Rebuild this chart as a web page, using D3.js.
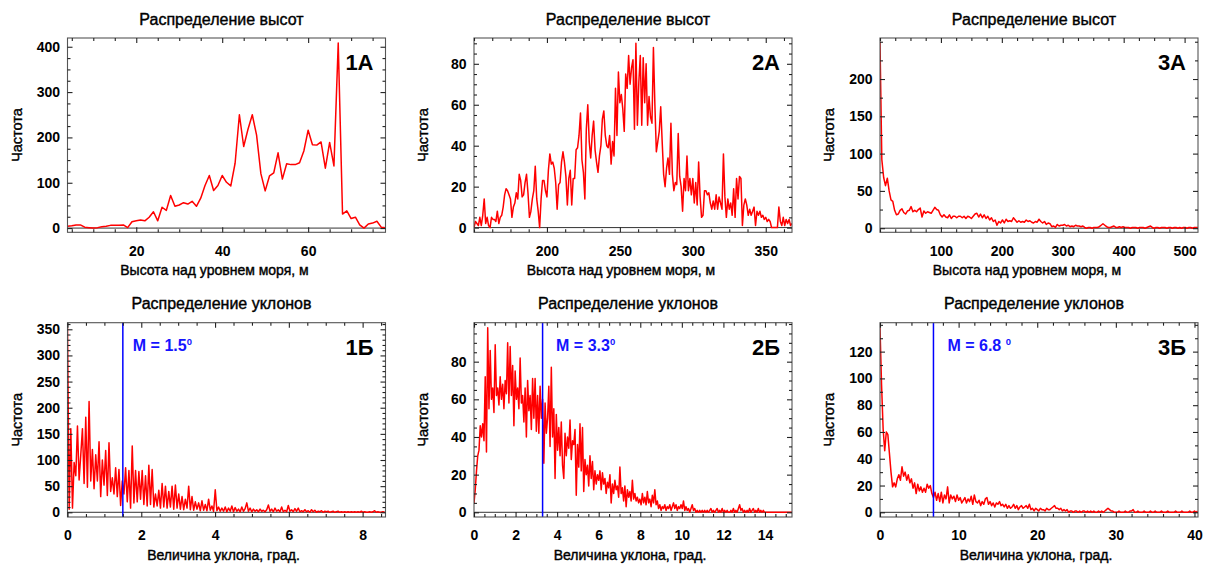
<!DOCTYPE html>
<html>
<head>
<meta charset="utf-8">
<script src="https://cdn.jsdelivr.net/npm/d3@7"></script>
<style>
  body { margin: 0; background: #fff; }
  svg text { font-family: "Liberation Sans", Arial, sans-serif; fill: #000; }
  svg text.heavy { paint-order: stroke; stroke: #000; stroke-width: 0.4px; }
</style>
</head>
<body>
<svg id="chart" width="1209" height="564"></svg>
<script>
// ---------- Height histograms (count per height bin) ----------
const heights1Start = 4, heights1Step = 1;
const heights1Counts = [4,5,7,7,2,1,0,1,3,4,6,6,6,7,1,14,16,18,16,24,36,16,46,39,72,48,51,56,53,59,
  48,66,94,116,83,94,116,101,93,143,250,180,218,250,205,120,82,115,122,166,108,142,140,140,144,170,216,184,183,190,
  132,189,137,408,31,38,21,24,7,0,9,11,15,2,1];

const heights2Start = 150, heights2Step = 1;
const heights2Counts = [
  0,3,2,1,5,1,6,14,2,5, 1,0,5,4,4,3,8,2,5,6, 10,16,19,18,16,14,5,10,12,17,
  14,26,23,15,16,22,26,17,5,8, 14,18,30,14,8,0,14,23,23,18, 15,28,36,31,32,29,22,9,21,22,
  32,37,32,25,11,24,28,11,24,24, 38,39,45,56,33,27,14,48,60,42, 34,45,52,38,32,27,35,40,53,57,
  45,40,39,45,31,42,35,68,45,76, 61,65,58,47,75,68,84,70,78,82, 48,90,50,71,84,50,83,61,80,50,
  64,54,51,88,60,37,42,47,59,42, 26,20,29,34,26,51,26,18,22,21, 46,25,20,8,24,18,35,18,24,16,
  24,12,22,11,32,15,5,6,18,18, 16,17,12,9,13,9,16,9,15,12, 9,36,15,5,14,9,12,6,19,5,
  24,14,25,24,1,11,14,11,6,9, 6,8,10,1,8,6,8,5,6,4, 5,3,4,3,0,0,0,0,0,10,
  3,1,5,1,4,2,4,1,2];

const heights3Start = 0, heights3Step = 3;
const heights3Counts = [
  250,92,68,57,67,50,38,36,24,18, 19,24,26,21,19,23,24,29,22,24, 22,25,27,15,23,20,22,21,20,24,
  28,25,24,18,15,18,15,14,18,13, 16,16,14,16,16,14,16,13,16,15, 13,16,19,20,15,19,14,18,13,16,
  11,14,9,11,4,9,7,11,7,12, 9,10,9,14,11,8,10,8,9,8, 11,9,10,8,7,9,8,12,9,7,
  9,5,7,6,2,3,1,5,3,4, 4,5,3,4,2,3,2,4,3,3, 2,3,1,0,1,1,0,1,1,1,
  2,4,6,4,2,1,1,2,3,1, 1,2,1,2,1,1,1,0,1,1, 1,0,1,1,1,0,1,2,3,1,
  0,1,1,0,1,1,1,0,1,1, 0,1,1,0,1,0,1,1,0,1, 1,0,1,1,1];

// ---------- Slope histograms (count per slope bin, degrees) ----------
const slopes1Start = 0, slopes1Step = 0.045;
const slopes1Counts = [
  353,6,160,8,95,70,165,62,110,160, 55,182,48,212,60,120,45,110,60,135, 30,100,52,118,32,133,40,66,35,85,
  30,82,13,60,35,85,20,80,8,127, 18,80,20,78,25,80,15,70,12,90, 15,82,10,35,12,42,8,55,10,50,
  8,40,10,50,6,52,8,35,6,30, 5,25,8,50,5,30,4,20,6,18, 3,22,4,15,3,25,4,12,2,43,
  3,10,2,8,2,10,1,8,2,12, 1,9,2,6,1,10,2,7,18,2, 8,1,6,2,5,1,6,2,4,1,
  5,14,2,6,1,8,2,5,1,10, 1,4,1,13,2,5,1,7,2,8, 1,3,1,5,1,3,0,5,1,4,
  0,2,1,3,0,2,1,2,0,1, 2,0,1,2,0,1,0,1,0,1, 0,1,0,1,0,1,0,2,0,1,
  0,0,1,0,1,3,0,1,0,0, 1,0];
const slopes1Median = 1.5;

const slopes2Start = 0, slopes2Step = 0.06;
const slopes2Counts = [
  5,12,22,30,33,46,40,47,38,72, 32,98,55,86,60,66,53,89,62,66, 57,72,60,68,55,70,63,90,58,88,
  62,78,46,75,60,66,55,82,58,62, 48,66,40,70,54,62,44,71,50,71, 43,62,42,67,50,60,26,58,42,50,
  67,35,77,40,55,18,52,33,45,30, 48,25,18,42,30,40,34,49,28,38, 36,44,9,36,24,47,22,45,11,28,
  20,25,14,30,18,27,12,22,15,20, 17,22,12,21,15,18,10,16,13,20, 5,15,10,17,12,14,8,24,10,13,
  6,14,3,12,8,11,6,17,7,10, 6,8,5,7,4,10,5,8,4,11, 5,7,3,9,5,12,4,6,2,4,
  1,3,2,4,1,3,2,4,1,3, 5,2,4,1,3,2,4,2,6,1, 3,1,2,0,2,4,1,2,0,1,
  0,1,0,1,0,1,0,1,0,1, 2,0,1,0,1,2,0,1,0,2, 0,1,0,1,0,0,1,0,2,0,
  1,0,2,4,1,2,0,1,0,1, 0,2,0,1,2,0,1,0,2,0, 1,0,1,0,0,0,0,0,0,0,
  0,0,0,0,0,0,0,0,0,0, 0,0,0,0,0,0];
const slopes2Median = 3.3;

const slopes3Start = 0, slopes3Step = 0.2;
const slopes3Counts = [
  138,95,62,46,60,58,44,30,19,22, 19,25,28,24,34,27,30,24,28,22, 25,18,22,14,21,16,19,15,18,15,
  21,18,20,14,11,15,9,14,8,15, 7,13,10,19,7,13,10,12,8,13, 9,11,7,9,11,7,10,8,12,6,
  13,8,7,9,5,8,6,10,11,6, 8,5,7,4,7,6,8,5,6,4, 6,3,5,3,4,6,3,5,2,4,
  5,3,4,5,3,6,2,3,1,3, 2,1,3,2,2,1,3,2,2,3, 4,5,3,3,2,3,1,2,1,2,
  0,1,1,0,1,1,0,1,0,1, 1,0,1,0,1,0,1,0,0,1, 0,1,0,1,2,3,2,1,1,0,
  0,0,1,0,0,0,1,0,0,1, 1,2,0,0,1,0,0,0,1,0, 0,0,1,0,0,1,0,0,0,1,
  0,0,0,1,0,0,0,0,1,0, 0,0,1,0,0,0,0,1,0,0, 1,0,1];
const slopes3Median = 6.8;

// ---------- Axis ticks ----------
const heights1XTicks = [20, 40, 60],            heights1YTicks = [0, 100, 200, 300, 400];
const heights2XTicks = [200, 250, 300, 350],    heights2YTicks = [0, 20, 40, 60, 80];
const heights3XTicks = [100, 200, 300, 400, 500], heights3YTicks = [0, 50, 100, 150, 200];
const slopes1XTicks = [0, 2, 4, 6, 8],          slopes1YTicks = [0, 50, 100, 150, 200, 250, 300, 350];
const slopes2XTicks = [0, 2, 4, 6, 8, 10, 12, 14], slopes2YTicks = [0, 20, 40, 60, 80];
const slopes3XTicks = [0, 10, 20, 30, 40],      slopes3YTicks = [0, 20, 40, 60, 80, 100, 120];

const heightTitle = "Распределение высот", slopeTitle = "Распределение уклонов";
const heightAxisTitle = "Высота над уровнем моря, м", slopeAxisTitle = "Величина уклона, град.";
const yAxisTitle = "Частота";

// ---------- Panel table ----------
const panels = [
  { label: "1А", col: 0, row: 0, title: heightTitle, xTitle: heightAxisTitle,
    start: heights1Start, step: heights1Step, counts: heights1Counts,
    xDomain: [4, 78], yDomain: [-9.3, 419.3], xTicks: heights1XTicks, yTicks: heights1YTicks, xMinor: 5, yMinor: 25 },
  { label: "2А", col: 1, row: 0, title: heightTitle, xTitle: heightAxisTitle,
    start: heights2Start, step: heights2Step, counts: heights2Counts,
    xDomain: [150, 368], yDomain: [-2.3, 92.6], xTicks: heights2XTicks, yTicks: heights2YTicks, xMinor: 12.5, yMinor: 5 },
  { label: "3А", col: 2, row: 0, title: heightTitle, xTitle: heightAxisTitle,
    start: heights3Start, step: heights3Step, counts: heights3Counts,
    xDomain: [0, 522], yDomain: [-5.5, 255], xTicks: heights3XTicks, yTicks: heights3YTicks, xMinor: 25, yMinor: 25 },
  { label: "1Б", col: 0, row: 1, title: slopeTitle, xTitle: slopeAxisTitle,
    start: slopes1Start, step: slopes1Step, counts: slopes1Counts, median: slopes1Median, medianGap: 10, medianSpace: "",
    xDomain: [0, 8.62], yDomain: [-9, 362.6], xTicks: slopes1XTicks, yTicks: slopes1YTicks, xMinor: 0.5, yMinor: 10 },
  { label: "2Б", col: 1, row: 1, title: slopeTitle, xTitle: slopeAxisTitle,
    start: slopes2Start, step: slopes2Step, counts: slopes2Counts, median: slopes2Median, medianGap: 13.5, medianSpace: "",
    xDomain: [0, 15.3], yDomain: [-2.5, 100.7], xTicks: slopes2XTicks, yTicks: slopes2YTicks, xMinor: 0.5, yMinor: 5 },
  { label: "3Б", col: 2, row: 1, title: slopeTitle, xTitle: slopeAxisTitle,
    start: slopes3Start, step: slopes3Step, counts: slopes3Counts, median: slopes3Median, medianGap: 14, medianSpace: " ",
    xDomain: [0, 40.45], yDomain: [-3.5, 141.6], xTicks: slopes3XTicks, yTicks: slopes3YTicks, xMinor: 2, yMinor: 10 }
];

// ---------- Layout ----------
const colLeft = [67.5, 474, 880];
const plotW = 318;
const rowTop = [38, 322.7];
const plotH = 194.3;
const xTitleShift = [-12, -3];
const FONT = '"Liberation Sans", Arial, sans-serif';

const svg = d3.select("#chart");
svg.append("rect").attr("width", 1209).attr("height", 564).attr("fill", "#fff");

function minorValues(domain, step, majors) {
  const lo = Math.ceil(domain[0] / step - 1e-9) * step;
  return d3.range(lo, domain[1] + 1e-9, step)
    .filter(v => !majors.some(m => Math.abs(m - v) < step * 1e-3));
}

function styleAxis(g) {
  g.select(".domain").remove();
  g.selectAll(".tick line").attr("stroke", "#222").attr("stroke-width", 1.1);
}

function styleLabels(g) {
  g.selectAll("text").attr("font-size", 14).attr("font-weight", "bold")
    .attr("font-family", FONT).style("fill", "#000");
}

panels.forEach((p, k) => {
  const x0 = colLeft[p.col], x1 = x0 + plotW;
  const y0 = rowTop[p.row], y1 = y0 + plotH;
  const x = d3.scaleLinear().domain(p.xDomain).range([x0, x1]);
  const y = d3.scaleLinear().domain(p.yDomain).range([y1, y0]);
  const g = svg.append("g").attr("class", "panel");

  const clipId = "plot-area-" + k;
  g.append("clipPath").attr("id", clipId)
    .append("rect").attr("x", x0).attr("y", y0).attr("width", plotW).attr("height", plotH);

  // zero baseline
  g.append("line")
    .attr("x1", x0).attr("x2", x1).attr("y1", y(0)).attr("y2", y(0))
    .attr("stroke", "#333").attr("stroke-width", 1);

  // frequency curve
  const pts = p.counts.map((c, i) => [p.start + i * p.step, c]);
  g.append("path").datum(pts)
    .attr("clip-path", `url(#${clipId})`)
    .attr("fill", "none").attr("stroke", "#ff0000").attr("stroke-width", 1.5)
    .attr("stroke-linejoin", "round")
    .attr("d", d3.line().x(d => x(d[0])).y(d => y(d[1])));

  // median slope marker
  if (p.median !== undefined) {
    const mx = x(p.median);
    g.append("line").attr("x1", mx).attr("x2", mx).attr("y1", y0).attr("y2", y1)
      .attr("stroke", "#0000ff").attr("stroke-width", 1.5);
    const t = g.append("text")
      .attr("x", mx + p.medianGap).attr("y", y0 + 28.6)
      .attr("font-size", 16).attr("font-weight", "bold").style("fill", "#1414ff");
    t.append("tspan").text("M = " + p.median.toFixed(1) + p.medianSpace);
    t.append("tspan").attr("dy", -6.6).attr("font-size", 9.5).text("0");
  }

  // frame
  g.append("rect").attr("x", x0).attr("y", y0).attr("width", plotW).attr("height", plotH)
    .attr("fill", "none").attr("stroke", "#555").attr("stroke-width", 1.1);

  const xMinorVals = minorValues(p.xDomain, p.xMinor, p.xTicks);
  const yMinorVals = minorValues(p.yDomain, p.yMinor, p.yTicks);

  // bottom axis with labels
  g.append("g").attr("transform", `translate(0,${y1})`)
    .call(d3.axisBottom(x).tickValues(p.xTicks).tickSize(-5).tickSizeOuter(0).tickPadding(13.5).tickFormat(d3.format("d")))
    .call(styleAxis).call(styleLabels);
  g.append("g").attr("transform", `translate(0,${y1})`)
    .call(d3.axisBottom(x).tickValues(xMinorVals).tickSize(-3).tickSizeOuter(0).tickFormat(""))
    .call(styleAxis);

  // top axis ticks
  g.append("g").attr("transform", `translate(0,${y0})`)
    .call(d3.axisTop(x).tickValues(p.xTicks).tickSize(-5).tickSizeOuter(0).tickFormat(""))
    .call(styleAxis);
  g.append("g").attr("transform", `translate(0,${y0})`)
    .call(d3.axisTop(x).tickValues(xMinorVals).tickSize(-3).tickSizeOuter(0).tickFormat(""))
    .call(styleAxis);

  // left axis with labels
  g.append("g").attr("transform", `translate(${x0},0)`)
    .call(d3.axisLeft(y).tickValues(p.yTicks).tickSize(-5).tickSizeOuter(0).tickPadding(7.5).tickFormat(d3.format("d")))
    .call(styleAxis).call(styleLabels);
  g.append("g").attr("transform", `translate(${x0},0)`)
    .call(d3.axisLeft(y).tickValues(yMinorVals).tickSize(-3).tickSizeOuter(0).tickFormat(""))
    .call(styleAxis);

  // right axis ticks
  g.append("g").attr("transform", `translate(${x1},0)`)
    .call(d3.axisRight(y).tickValues(p.yTicks).tickSize(-5).tickSizeOuter(0).tickFormat(""))
    .call(styleAxis);
  g.append("g").attr("transform", `translate(${x1},0)`)
    .call(d3.axisRight(y).tickValues(yMinorVals).tickSize(-3).tickSizeOuter(0).tickFormat(""))
    .call(styleAxis);

  // panel label
  g.append("text").attr("x", x1 - 12).attr("y", y0 + 32)
    .attr("text-anchor", "end").attr("font-size", 22).attr("font-weight", "bold").text(p.label);

  // titles
  const cx = (x0 + x1) / 2;
  g.append("text").attr("class", "heavy").attr("x", cx - 5).attr("y", y0 - 13.5)
    .attr("text-anchor", "middle").attr("font-size", 16).text(p.title);
  g.append("text").attr("class", "heavy").attr("x", cx + xTitleShift[p.row]).attr("y", y1 + 42.5)
    .attr("text-anchor", "middle").attr("font-size", 14).text(p.xTitle);
  g.append("text").attr("class", "heavy")
    .attr("transform", `translate(${x0 - 46},${(y0 + y1) / 2}) rotate(-90)`)
    .attr("text-anchor", "middle").attr("font-size", 14.5).text(yAxisTitle);
});
</script>
</body>
</html>
